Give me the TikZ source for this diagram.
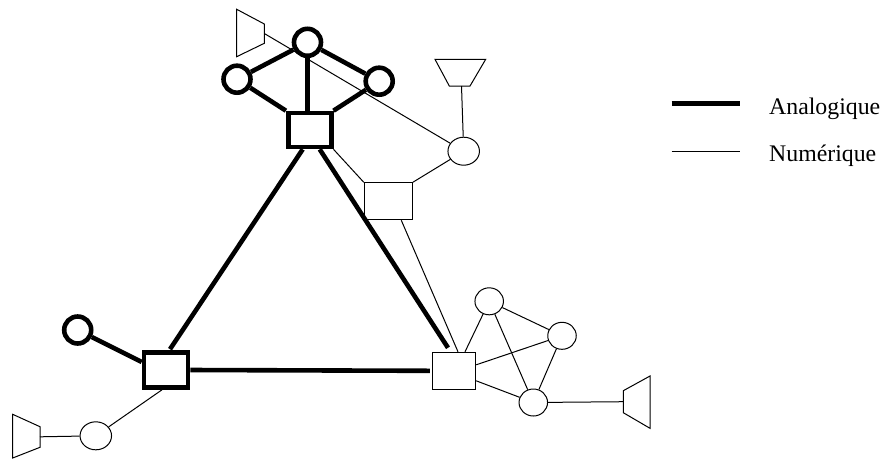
\documentclass[tikz,border=0pt]{standalone}
\usepackage{fontspec}
\setmainfont{Liberation Serif}
\usetikzlibrary{calc,shapes.geometric}
\begin{document}
\begin{tikzpicture}[x=1pt,y=-1pt,
  ana/.style={line width=4.6pt},
  num/.style={line width=1pt},
  asq/.style={draw,ana,rectangle,inner sep=0pt,minimum width=43pt,minimum height=34pt},
  nsq/.style={draw,num,rectangle,inner sep=0pt},
  acirc/.style={draw,ana,circle,inner sep=0pt,minimum size=27pt},
  nell/.style={draw,num,ellipse,inner sep=0pt,minimum width=31.5pt,minimum height=28pt},
  nsm/.style={draw,num,ellipse,inner sep=0pt,minimum width=28.5pt,minimum height=27pt},
  ant/.style={draw,num,line join=miter},
  lab/.style={anchor=base west,inner sep=0pt,font=\fontsize{23.8}{28}\selectfont}
]
\useasboundingbox (0,0) rectangle (883,459);

% analog nodes
\node[asq] (top) at (309.7,130) {};
\node[asq,minimum width=44pt,minimum height=35pt] (bl) at (166,370) {};
\node[acirc] (tc) at (307.5,42.3) {};
\node[acirc] (lc) at (237,79.2) {};
\node[acirc] (rc) at (379.2,81.2) {};
\node[acirc] (blc) at (77.7,330) {};

% digital nodes
\node[nsq,minimum width=48pt,minimum height=37pt] (mid) at (388.3,201.3) {};
\node[nsq,minimum width=43.4pt,minimum height=37pt] (br) at (454,370.8) {};
\node[nell] (e1) at (463.7,151.2) {};
\node[nell] (e3) at (95.8,435.8) {};
\node[nsm] (ca) at (489.2,301.3) {};
\node[nsm] (cb) at (562,335.8) {};
\node[nsm] (cc) at (533.3,402.5) {};

% antennas
\draw[ant] (435,59.3) -- (485.7,59.3) -- (470,86) -- (449.3,86) -- cycle;
\coordinate (a1) at (461.5,86);
\draw[ant] (236.7,9.3) -- (264.3,24) -- (264.3,43.3) -- (236.7,56.7) -- cycle;
\coordinate (a2) at (264.3,33.5);
\draw[ant] (12.7,414.3) -- (40,426.7) -- (40,447.3) -- (12.7,458) -- cycle;
\coordinate (a3) at (40,436.8);
\draw[ant] (650,376) -- (623.3,390.7) -- (623.3,412.7) -- (650,428.3) -- cycle;
\coordinate (a4) at (623.3,401.7);

% analog links
\draw[ana] (tc) -- (lc);
\draw[ana] (tc) -- (rc);
\draw[ana] (tc.south) -- (tc.south |- top.north);
\draw[ana] (lc) -- (top.north west);
\draw[ana] (rc) -- (top.north east);
\draw[ana] ($(top.south)+(-7,0)$) -- ($(bl.north)+(4,-1)$);
\draw[ana] ($(top.south)+(10,0)$) -- ($(br.north)+(-6,-4)$);
\draw[ana] (bl.east) -- ($(br.west)+(-2,0)$);
\draw[ana] (blc) -- ($(bl.west)+(0,-8)$);

% digital links
\draw[num] (a2) -- (e1);
\draw[num] (a1) -- (e1);
\draw[num] (top.south east) -- (mid.north west);
\draw[num] (mid.north east) -- (e1);
\draw[num] ($(mid.south)+(13,0)$) -- ($(br.north)+(4,0)$);
\draw[num] ($(br.north)+(11,0)$) -- (ca);
\draw[num] ($(br.east)+(0,-6)$) -- (cb);
\draw[num] ($(br.east)+(0,10)$) -- (cc);
\draw[num] (ca) -- (cb);
\draw[num] (ca) -- (cc);
\draw[num] (cb) -- (cc);
\draw[num] (cc) -- (a4);
\draw[num] ($(bl.south)+(-4,0)$) -- (e3);
\draw[num] (e3) -- (a3);

% legend
\coordinate (la1) at (671.7,103.3);
\coordinate (la2) at (740,103.3);
\coordinate (ln1) at (671.7,151);
\coordinate (ln2) at (740,151);
\draw[ana] (la1) -- (la2);
\draw[num] (ln1) -- (ln2);
\node[lab] (tana) at (769,114) {Analogique};
\node[lab] (tnum) at (769,161) {Numérique};
\end{tikzpicture}
\end{document}
